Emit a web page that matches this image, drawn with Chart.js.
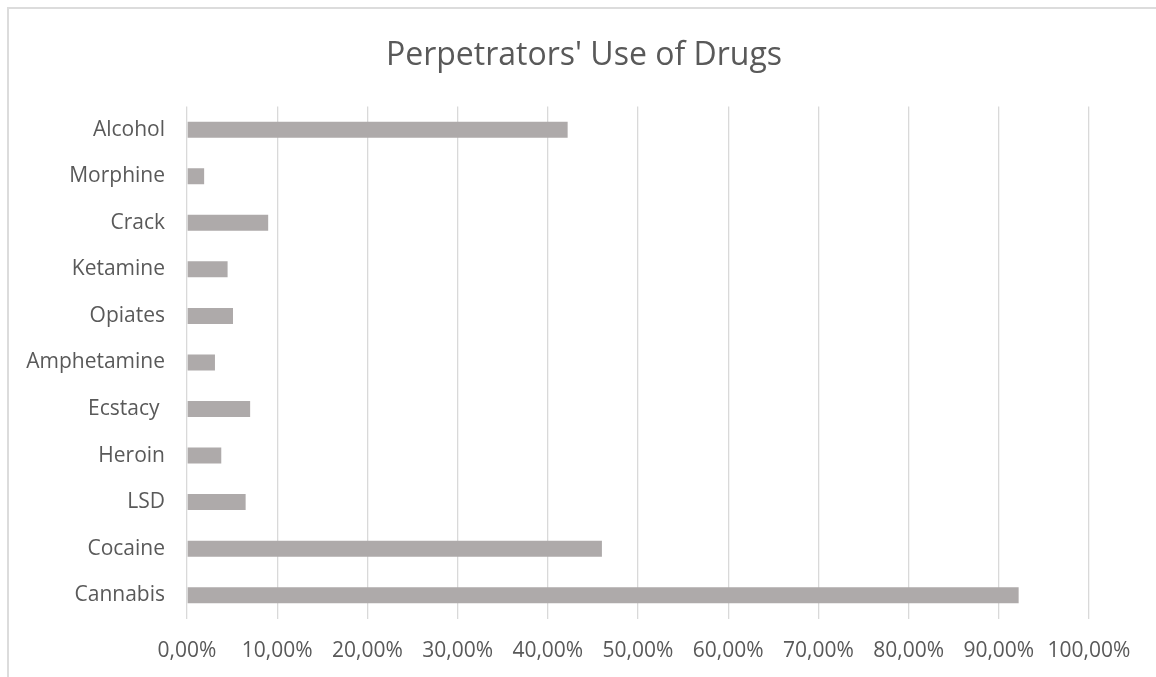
<!DOCTYPE html>
<html>
<head>
<meta charset="utf-8">
<script src="https://cdn.jsdelivr.net/npm/chart.js@4"></script>
<style>
  html, body { margin: 0; padding: 0; background: #ffffff; }
  #wrap { width: 1156px; height: 677px; position: relative; }
</style>
</head>
<body>
<div id="wrap"><canvas id="drugChart"></canvas></div>
<script>
// Drugs, top to bottom as shown
const drugs = ['Alcohol', 'Morphine', 'Crack', 'Ketamine', 'Opiates', 'Amphetamine', 'Ecstacy ', 'Heroin', 'LSD', 'Cocaine', 'Cannabis'];
// share of perpetrators (%)
const useShare = [42.2, 1.9, 9.0, 4.5, 5.1, 3.1, 7.0, 3.8, 6.5, 46.0, 92.2];
const xTicks = { min: 0, max: 100, step: 10 };

const textColor = '#595959';
const gridColor = '#d9d9d9';

// thin frame round the chart, as in the source
const framePlugin = {
    id: 'frame',
    beforeDraw(chart) {
        const ctx = chart.ctx;
        ctx.save();
        ctx.fillStyle = '#dcdcdc';
        ctx.fillRect(7, 7, chart.width - 7, 2);
        ctx.fillRect(7, 7, 2, chart.height - 7);
        ctx.restore();
    }
};

// centre the title over the framed area, not only the plot
const centreTitle = {
    id: 'centreTitle',
    afterLayout(chart) {
        if (chart.titleBlock) {
            chart.titleBlock.left = 12;
            chart.titleBlock.right = chart.width;
            chart.titleBlock.width = chart.width - 12;
        }
    }
};

new Chart(document.getElementById('drugChart'), {
    type: 'bar',
    data: {
        labels: drugs,
        datasets: [{
            label: 'Use',
            data: useShare,
            backgroundColor: '#aeaaaa',
            borderWidth: 0,
            categoryPercentage: 1,
            barPercentage: 0.344
        }]
    },
    options: {
        indexAxis: 'y',
        responsive: true,
        maintainAspectRatio: false,
        animation: false,
        layout: { padding: { top: 0, right: 67, bottom: 0, left: 0 } },
        plugins: {
            legend: { display: false },
            tooltip: { enabled: false },
            title: {
                display: true,
                text: "Perpetrators' Use of Drugs",
                color: textColor,
                font: { family: 'Open Sans', size: 32, weight: 'normal' },
                padding: { top: 37, bottom: 31 }
            }
        },
        scales: {
            x: {
                min: xTicks.min,
                max: xTicks.max,
                border: { display: false },
                grid: { color: gridColor, lineWidth: 1.3, drawTicks: false },
                afterFit: function(scale) { scale.height = 58.5; },
                ticks: {
                    stepSize: xTicks.step,
                    padding: 20,
                    color: textColor,
                    font: { family: 'Open Sans', size: 21 },
                    callback: function(value) {
                        return value.toFixed(2).replace('.', ',') + '%';
                    }
                }
            },
            y: {
                border: { display: false },
                grid: { display: false, drawTicks: false },
                afterFit: function(scale) { scale.width = 187; },
                ticks: {
                    padding: 22,
                    color: textColor,
                    font: { family: 'Open Sans', size: 21 }
                }
            }
        }
    },
    plugins: [framePlugin, centreTitle]
});
</script>
</body>
</html>
